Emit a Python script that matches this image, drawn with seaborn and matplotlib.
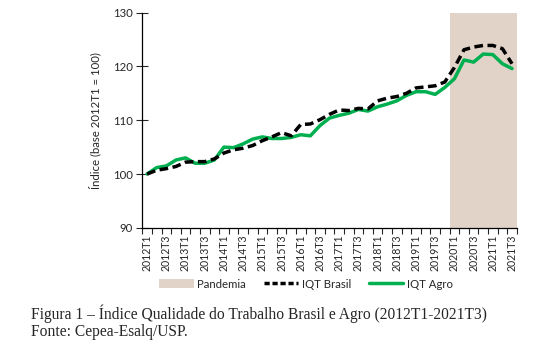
import pandas as pd
import seaborn as sns
import matplotlib.pyplot as plt
from matplotlib.patches import Patch
from matplotlib.lines import Line2D

# quarters 2012T1 .. 2021T3
quarters = [f'{y}T{q}' for y in range(2012, 2022) for q in range(1, 5)][:39]

iqt_brasil = [100.0, 100.7, 101.0, 101.4, 102.2, 102.3, 102.3, 102.8, 103.9, 104.5,
              104.8, 105.3, 106.2, 106.9, 107.7, 107.1, 109.2, 109.3, 110.1, 111.1,
              111.9, 111.8, 112.2, 112.1, 113.6, 114.1, 114.4, 115.0, 116.0, 116.2,
              116.4, 117.1, 119.8, 123.1, 123.6, 123.9, 123.9, 123.3, 120.5]

iqt_agro = [100.0, 101.2, 101.5, 102.6, 103.0, 102.0, 102.0, 102.6, 105.0, 104.9,
            105.6, 106.5, 106.9, 106.6, 106.6, 106.8, 107.3, 107.1, 109.0, 110.4,
            110.9, 111.3, 112.0, 111.7, 112.5, 113.0, 113.6, 114.6, 115.3, 115.3,
            114.8, 116.1, 117.7, 121.2, 120.8, 122.3, 122.2, 120.5, 119.6]

pandemia_start = '2020T1'

df = pd.DataFrame({'pos': range(len(quarters)), 'Trimestre': quarters,
                   'IQT Brasil': iqt_brasil, 'IQT Agro': iqt_agro})

sns.set_style('ticks')
plt.rcParams['font.family'] = ['Lato', 'DejaVu Sans']

green = '#00b050'
shade = '#e2d3c8'
fs = 8.2

fig = plt.figure(figsize=(5.35, 3.51), dpi=100)
ax = fig.add_axes([0.266, 0.351, 0.700, 0.613])

start = quarters.index(pandemia_start) - 0.5
ax.axvspan(start, len(quarters) - 0.5, color=shade, lw=0, zorder=0)

sns.lineplot(data=df, x='pos', y='IQT Brasil', ax=ax, color='black', lw=2.5,
             linestyle=(0, (2.5, 1.3)), dash_capstyle='butt', zorder=3)
sns.lineplot(data=df, x='pos', y='IQT Agro', ax=ax, color=green, lw=2.5, zorder=2)

ax.set_xlim(-0.5, len(quarters) - 0.5)
ax.set_ylim(90, 130)
ax.set_yticks([90, 100, 110, 120, 130])

# labels at centres of every other quarter, tick marks at boundaries
ax.set_xticks(range(0, len(quarters), 2))
ax.set_xticklabels(quarters[::2], rotation=90, fontsize=7.6)
ax.set_xticks([i - 0.5 for i in range(len(quarters) + 1)], minor=True)
ax.tick_params(axis='x', which='major', length=0, pad=5)
ax.tick_params(axis='x', which='minor', length=4, width=0.8, direction='out')
ax.tick_params(axis='y', length=8, width=0.8, direction='inout', labelsize=fs, pad=3)

ax.set_xlabel('')
ax.set_ylabel('Índice (base 2012T1 = 100)', fontsize=fs, labelpad=8)
sns.despine(ax=ax)
for s in ['left', 'bottom']:
    ax.spines[s].set_linewidth(0.9)
    ax.spines[s].set_color('black')

handles = [Patch(facecolor=shade, edgecolor='none'),
           Line2D([], [], color='black', lw=2.5, linestyle=(0, (1.5, 0.8))),
           Line2D([], [], color=green, lw=2.5)]
fig.legend(handles, ['Pandemia', 'IQT Brasil', 'IQT Agro'], loc='center',
           bbox_to_anchor=(306 / 535, 1 - 284 / 351), ncol=3, frameon=False,
           fontsize=fs, handlelength=3.0, handleheight=0.9, columnspacing=1.6,
           handletextpad=0.3)

fig.text(31 / 535, 1 - 314 / 351,
         'Figura 1 – Índice Qualidade do Trabalho Brasil e Agro (2012T1-2021T3)',
         family='Liberation Serif', fontsize=11.2, va='center', ha='left')
fig.text(31 / 535, 1 - 332 / 351, 'Fonte: Cepea-Esalq/USP.',
         family='Liberation Serif', fontsize=11.2, va='center', ha='left')

fig.savefig('out.png', dpi=100)
